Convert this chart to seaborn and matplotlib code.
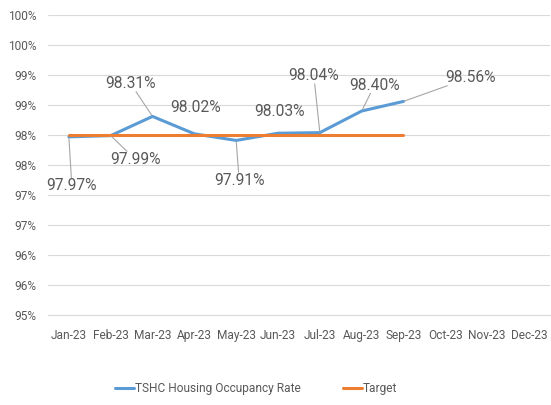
import numpy as np
import pandas as pd
import seaborn as sns
import matplotlib
matplotlib.use("Agg")
import matplotlib.pyplot as plt
from matplotlib import font_manager

months = ["Jan-23", "Feb-23", "Mar-23", "Apr-23", "May-23", "Jun-23",
          "Jul-23", "Aug-23", "Sep-23", "Oct-23", "Nov-23", "Dec-23"]
occupancy = [97.97, 97.99, 98.31, 98.02, 97.91, 98.03, 98.04, 98.40, 98.56]
target = [98.0] * 9
ytick_values = [95.0, 95.5, 96.0, 96.5, 97.0, 97.5, 98.0, 98.5, 99.0, 99.5, 100.0]
ytick_labels = ["95%", "96%", "96%", "97%", "97%", "98%", "98%", "99%", "99%", "100%", "100%"]

# label offsets (pixels) relative to each point, and whether a leader line is drawn
label_offsets = [(3, -49), (25, -24), (-22, 33), (1, 26), (3, -40),
                 (1, 22), (-6, 57), (13, 26), (67, 24)]
leaders = [True, True, True, False, True, False, True, True, True]

sns.set_style("white")
names = {f.name for f in font_manager.fontManager.ttflist}
if "Liberation Sans Narrow" in names:
    fam, narrow = "Liberation Sans Narrow", True
else:
    fam, narrow = "Roboto", False
plt.rcParams["font.family"] = [fam, "DejaVu Sans"]
k = 1.0 if narrow else 0.9

blue = "#5B9BD5"
orange = "#ED7D31"
grey_txt = "#595959"
grid_c = "#D9D9D9"

n = len(occupancy)
df = pd.DataFrame({
    "idx": list(range(n)) * 2,
    "value": occupancy + target,
    "series": ["TSHC Housing Occupancy Rate"] * n + ["Target"] * n,
})

fig = plt.figure(figsize=(5.51, 4.05), dpi=100)
ax = fig.add_axes([0.087, 0.222, 0.911, 0.741])

sns.lineplot(data=df, x="idx", y="value", hue="series",
             palette=[blue, orange], linewidth=2.2, ax=ax, legend=True)

ax.set_xlim(-0.5, 11.5)
ax.set_ylim(95, 100)
ax.set_yticks(ytick_values)
ax.set_yticklabels(ytick_labels)
ax.set_xticks(range(len(months)))
ax.set_xticklabels(months)
ax.set_xticks(np.arange(-0.5, 12, 1), minor=True)
ax.tick_params(axis="x", which="major", length=0, pad=10, labelsize=9.5 * k, labelcolor=grey_txt)
ax.tick_params(axis="x", which="minor", length=4, color=grid_c, width=0.8)
ax.tick_params(axis="y", length=0, pad=8, labelsize=9.5 * k, labelcolor=grey_txt)
ax.set_xlabel("")
ax.set_ylabel("")
ax.yaxis.grid(True, color=grid_c, linewidth=0.8)
ax.set_axisbelow(True)
for s in ["top", "right", "left"]:
    ax.spines[s].set_visible(False)
ax.spines["bottom"].set_color(grid_c)
ax.spines["bottom"].set_linewidth(0.8)

for i, v in enumerate(occupancy):
    dx, dy = label_offsets[i]
    props = dict(arrowstyle="-", color="#A6A6A6", lw=0.8, shrinkA=0, shrinkB=1) if leaders[i] else None
    ax.annotate(f"{v:.2f}%", xy=(i, v), xytext=(dx, dy), textcoords="offset pixels",
                ha="center", va="center", fontsize=12.5 * k, color=grey_txt,
                bbox=dict(boxstyle="square,pad=0.05", fc="none", ec="none"),
                arrowprops=props)

leg = ax.legend(loc="center", bbox_to_anchor=(0.465, 0.04), bbox_transform=fig.transFigure,
                ncol=2, frameon=False, fontsize=9.5 * k, handlelength=1.6, columnspacing=3.5,
                handletextpad=0.1)
for t in leg.get_texts():
    t.set_color(grey_txt)

fig.savefig("out.png", dpi=100)
